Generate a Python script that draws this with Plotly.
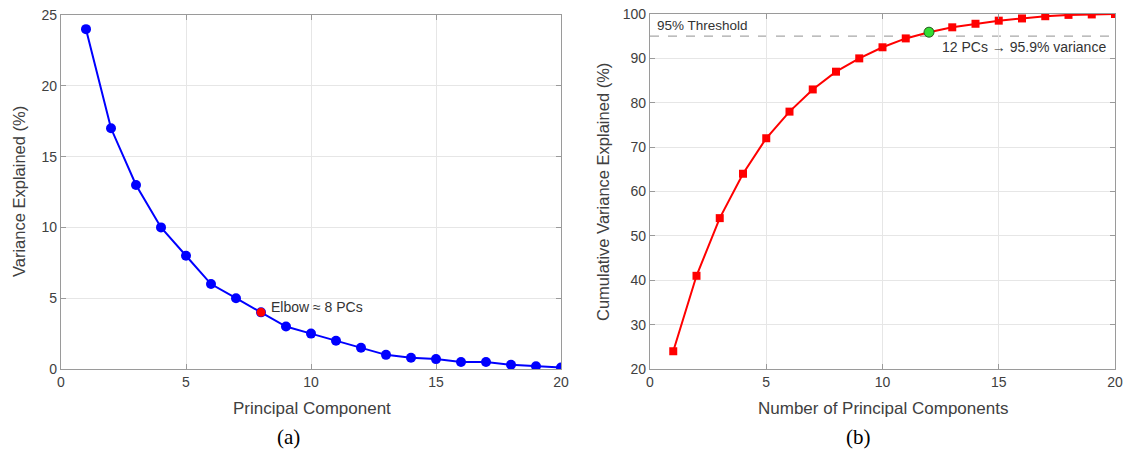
import plotly.graph_objects as go

# ---- data ----
pcs = list(range(1, 21))
variance_pct = [24, 17, 13, 10, 8, 6, 5, 4, 3, 2.5, 2, 1.5, 1, 0.8, 0.7, 0.5, 0.5, 0.3, 0.2, 0.1]
cumulative_pct = [24, 41, 54, 64, 72, 78, 83, 87, 90, 92.5, 94.5, 95.9, 97, 97.8, 98.5, 99, 99.5, 99.8, 99.9, 100]
elbow_pc = 8
chosen_pc = 12
threshold = 95

W, H = 1128, 450
def px(x):
    return x / W
def py(y):
    return 1 - y / H

TXT = "#404040"
FRAME = "#9a9a9a"
GRID = "#e6e6e6"
FONT = "Liberation Sans, Arial, sans-serif"

fig = go.Figure()

# (a) scree plot
fig.add_trace(go.Scatter(
    x=pcs, y=variance_pct, mode="lines+markers",
    line=dict(color="#0000ff", width=2),
    marker=dict(symbol="circle", size=10, color="#0000ff"),
    xaxis="x", yaxis="y", showlegend=False))
fig.add_trace(go.Scatter(
    x=[elbow_pc], y=[variance_pct[elbow_pc - 1]], mode="markers",
    marker=dict(symbol="circle", size=9, color="#ff0000"),
    xaxis="x", yaxis="y", showlegend=False))

# (b) cumulative
fig.add_trace(go.Scatter(
    x=pcs, y=cumulative_pct, mode="lines+markers",
    line=dict(color="#ff0000", width=2),
    marker=dict(symbol="square", size=8, color="#ff0000"),
    xaxis="x2", yaxis="y2", showlegend=False))
fig.add_trace(go.Scatter(
    x=[chosen_pc], y=[cumulative_pct[chosen_pc - 1]], mode="markers",
    marker=dict(symbol="circle", size=10, color="#33dd33",
                line=dict(color="#1f5f1f", width=1)),
    xaxis="x2", yaxis="y2", showlegend=False))

fig.add_shape(type="line", xref="x2", yref="y2", x0=0, x1=20, y0=threshold, y1=threshold,
              line=dict(color="#a8a8a8", width=1.3, dash="dash"), layer="below")

axis_common = dict(
    showgrid=True, gridcolor=GRID, gridwidth=1,
    showline=True, linecolor=FRAME, linewidth=1.2, mirror="ticks",
    ticks="inside", ticklen=5, tickcolor=FRAME,
    zeroline=False, automargin=False,
    tickfont=dict(family=FONT, size=14, color=TXT),
)

fig.update_layout(
    width=W, height=H,
    margin=dict(l=0, r=0, t=0, b=0, autoexpand=False),
    paper_bgcolor="white", plot_bgcolor="white",
    font=dict(family=FONT, color=TXT),
    xaxis=dict(domain=[px(61), px(561)], range=[0, 20], dtick=5, anchor="y", **axis_common),
    yaxis=dict(domain=[py(369), py(15)], range=[0, 25], dtick=5, anchor="x", **axis_common),
    xaxis2=dict(domain=[px(650), px(1115)], range=[0, 20], dtick=5, anchor="y2", **axis_common),
    yaxis2=dict(domain=[py(369), py(14)], range=[20, 100], dtick=10, anchor="x2", **axis_common),
)

def pann(text, x, y, size, angle=0, family=FONT, color=TXT):
    return dict(text=text, x=px(x), y=py(y), xref="paper", yref="paper",
                xanchor="center", yanchor="middle", showarrow=False, textangle=angle,
                font=dict(family=family, size=size, color=color))

ann = []
# axis titles
ann.append(pann("Principal Component", 312, 408, 17))
ann.append(pann("Variance Explained (%)", 19, 192, 16.5, angle=-90))
ann.append(pann("Number of Principal Components", 883, 408, 17))
ann.append(pann("Cumulative Variance Explained (%)", 603, 192, 16.5, angle=-90))
# captions
SERIF = "Liberation Serif, Times New Roman, serif"
ann.append(pann("(a)", 288, 437, 21, family=SERIF, color="#000000"))
ann.append(pann("(b)", 859, 437, 21, family=SERIF, color="#000000"))
# in-plot labels
ann.append(dict(text="Elbow \u2248 8 PCs", x=8.3, y=4.4, xref="x", yref="y", xanchor="left",
                yanchor="middle", showarrow=False, font=dict(family=FONT, size=14, color="#333333")))
ann.append(dict(text="95% Threshold", x=0.2, y=97.5, xref="x2", yref="y2", xanchor="left",
                yanchor="middle", showarrow=False, font=dict(family=FONT, size=13.5, color="#333333")))
ann.append(dict(text="12 PCs \u2192 95.9% variance", x=19.7, y=92.6, xref="x2", yref="y2", xanchor="right",
                yanchor="middle", showarrow=False, font=dict(family=FONT, size=14, color="#333333")))
fig.update_layout(annotations=ann)

fig.write_html("out.html")
